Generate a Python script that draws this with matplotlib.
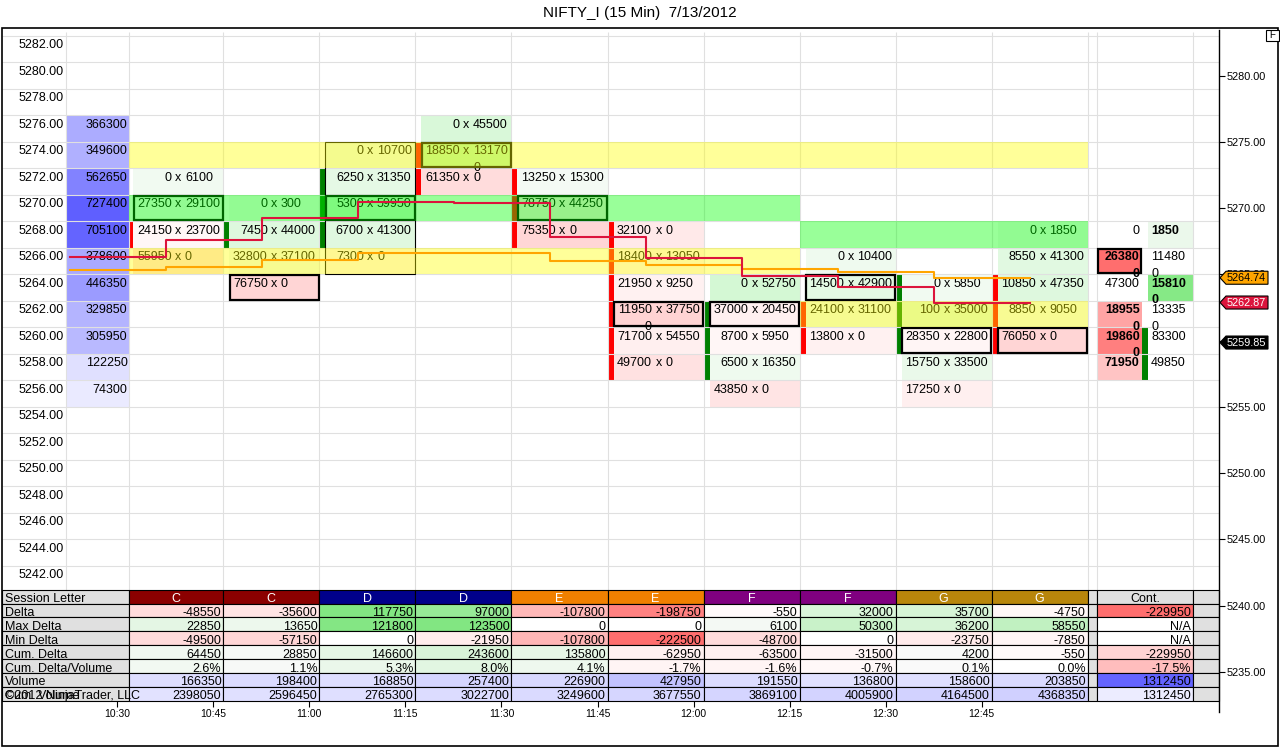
import matplotlib
matplotlib.use("Agg")
import matplotlib.pyplot as plt
from matplotlib.patches import Rectangle, Polygon

plt.rcParams['font.family'] = ['Liberation Sans', 'DejaVu Sans']

# ===================== data =====================
TITLE = "NIFTY_I (15 Min)  7/13/2012"
times = ["10:30", "10:45", "11:00", "11:15", "11:30", "11:45", "12:00", "12:15", "12:30", "12:45"]
sessions = ["C", "C", "D", "D", "E", "E", "F", "F", "G", "G"]
session_colors = {"C": "#8B0000", "D": "#00008B", "E": "#F08000", "F": "#800080", "G": "#B8860B"}

left_price_labels = [5282, 5280, 5278, 5276, 5274, 5272, 5270, 5268, 5266, 5264, 5262,
                     5260, 5258, 5256, 5254, 5252, 5250, 5248, 5246, 5244, 5242]
right_axis_ticks = [5280, 5275, 5270, 5265, 5260, 5255, 5250, 5245, 5240, 5235]

profile_prices = [5276, 5274, 5272, 5270, 5268, 5266, 5264, 5262, 5260, 5258, 5256]
profile_volume = [366300, 349600, 562650, 727400, 705100, 378600, 446350, 329850, 305950, 122250, 74300]

bar_prices = [
    [5272, 5270, 5268, 5266],
    [5270, 5268, 5266, 5264],
    [5274, 5272, 5270, 5268, 5266],
    [5276, 5274, 5272],
    [5272, 5270, 5268],
    [5268, 5266, 5264, 5262, 5260, 5258],
    [5264, 5262, 5260, 5258, 5256],
    [5266, 5264, 5262, 5260],
    [5264, 5262, 5260, 5258, 5256],
    [5268, 5266, 5264, 5262, 5260],
]
bar_bids = [
    [0, 27350, 24150, 55950],
    [0, 7450, 32800, 76750],
    [0, 6250, 5300, 6700, 7300],
    [0, 18850, 61350],
    [13250, 78750, 75350],
    [32100, 18400, 21950, 119500, 71700, 49700],
    [0, 37000, 8700, 6500, 43850],
    [0, 14500, 24100, 13800],
    [0, 100, 28350, 15750, 17250],
    [0, 8550, 10850, 8850, 76050],
]
bar_asks = [
    [6100, 29100, 23700, 0],
    [300, 44000, 37100, 0],
    [10700, 31350, 59950, 41300, 0],
    [45500, 131700, 0],
    [15300, 44250, 0],
    [0, 13050, 9250, 37750, 54550, 0],
    [52750, 20450, 5950, 16350, 0],
    [10400, 42900, 31100, 0],
    [5850, 35000, 22800, 33500, 0],
    [1850, 41300, 47350, 9050, 0],
]
bar_open = [5268.6, 5267.9, 5268.4, 5273.2, 5271.6, 5268.0, 5258.4, 5262.3, 5260.2, 5263.6]
bar_close = [5267.9, 5268.4, 5272.2, 5271.8, 5268.2, 5258.4, 5262.3, 5260.2, 5263.6, 5259.85]
highlight_bar = 2

comp_prices = [5268, 5266, 5264, 5262, 5260, 5258]
comp_bids = [0, 263800, 47300, 189550, 198600, 71950]
comp_asks = [1850, 114800, 158100, 133350, 83300, 49850]
comp_bid_bold = [False, True, False, True, True, True]
comp_ask_bold = [True, False, True, False, False, False]
comp_open = 5258.3
comp_close = 5259.85

band_prices = [5274, 5270, 5266, 5268, 5262]
band_first = [0, 0, 0, 7, 7]
band_last = [9, 6, 6, 9, 9]
band_kind = ["yellow", "green", "yellow", "green", "yellow"]

red_line = [5266.33, 5267.59, 5269.23, 5270.48, 5270.36, 5267.84, 5266.21, 5264.89, 5264.06, 5262.87]
orange_line = [5265.29, 5265.57, 5266.07, 5266.57, 5266.64, 5265.99, 5265.69, 5265.37, 5265.19, 5264.74]
last_price = 5259.85

table_labels = ["Session Letter", "Delta", "Max Delta", "Min Delta", "Cum. Delta",
                "Cum. Delta/Volume", "Volume", "Cum. Volume"]
copyright_text = "\u00a92012 NinjaTrader, LLC"
tbl_delta = [-48550, -35600, 117750, 97000, -107800, -198750, -550, 32000, 35700, -4750]
tbl_max_delta = [22850, 13650, 121800, 123500, 0, 0, 6100, 50300, 36200, 58550]
tbl_min_delta = [-49500, -57150, 0, -21950, -107800, -222500, -48700, 0, -23750, -7850]
tbl_cum_delta = [64450, 28850, 146600, 243600, 135800, -62950, -63500, -31500, 4200, -550]
tbl_cum_dv = [2.6, 1.1, 5.3, 8.0, 4.1, -1.7, -1.6, -0.7, 0.1, 0.0]
tbl_volume = [166350, 198400, 168850, 257400, 226900, 427950, 191550, 136800, 158600, 203850]
tbl_cum_volume = [2398050, 2596450, 2765300, 3022700, 3249600, 3677550, 3869100, 4005900, 4164500, 4368350]
cont_header = "Cont."
cont_values = [-229950, None, None, -229950, -17.5, 1312450, 1312450]

# ===================== layout / style =====================
FW, FH = 1280, 747
FS = 9


def fbox(x0, y0, x1, y1):
    return [x0 / FW, 1 - y1 / FH, (x1 - x0) / FW, (y1 - y0) / FH]


PX_PER_PT = 13.25
REF_PRICE, REF_Y = 5282, 49.05


def y_to_price(y):
    return REF_PRICE - (y - REF_Y) / PX_PER_PT


LEFT, RIGHT = 2, 1218.5
PLOT_TOP, PLOT_BOT = 30, 589.7
TAB_BOT = 700.7
AXIS_BOT = 712
X0, W = 127.3, 96.04
PROF_L, PROF_R = 65.7, 129.3
MARK_W = 6
COMP_L, COMP_ML, COMP_MR, COMP_R = 1097.3, 1141.7, 1148.0, 1193.3
STEP_OFF = 38.6
GRID = '#E0E0E0'
GREY = '#E0E0E0'
BAND_COL = {"yellow": "#FFFF00", "green": "#00FF00"}


def col_left(i):
    return X0 + W * i


def clip_l(x):
    return max(x, PROF_R)


def rgb(r, g, b):
    return (min(max(r, 0), 255) / 255, min(max(g, 0), 255) / 255, min(max(b, 0), 255) / 255)


def top_y(p):
    return p + 1 - 3.3 / PX_PER_PT


def wrap(s):
    return s if len(s) <= 5 else s[:5] + "\n" + s[5:]


def bucket(p):
    return 2 * round(p / 2)


def fp_color(d, scale):
    r = min(abs(d) / scale, 1.0)
    if d < 0:
        c = 247 - 50 * r
        return rgb(255, c, c)
    c = 245 - 70 * r
    return rgb(c, 250 - 5 * r, c)


fig = plt.figure(figsize=(12.8, 7.47), dpi=100)
fig.patch.set_facecolor('white')

ax = fig.add_axes(fbox(LEFT, PLOT_TOP, RIGHT, PLOT_BOT))
ax.set_xlim(LEFT, RIGHT)
ax.set_ylim(y_to_price(PLOT_BOT), y_to_price(PLOT_TOP))
ax.axis('off')

# grid
for p in left_price_labels:
    ax.hlines(p + 1, LEFT, RIGHT, color=GRID, lw=0.8, zorder=2)
vx = [PROF_L] + [clip_l(col_left(i)) for i in range(len(times) + 1)] + [COMP_L, COMP_R]
ax.vlines(vx, y_to_price(PLOT_BOT), y_to_price(32), color=GRID, lw=0.8, zorder=2)

# left price labels
for p in left_price_labels:
    ax.text(63.5, top_y(p), f"{p:.2f}", ha='right', va='top', fontsize=FS, zorder=3)

# volume profile
pmax = max(profile_volume)
for p, v in zip(profile_prices, profile_volume):
    c = 250 - 155 * v / pmax
    ax.add_patch(Rectangle((PROF_L, p - 1), PROF_R - PROF_L, 2, fc=rgb(c, c, 255), ec='none', zorder=1))
    ax.text(PROF_R - 1.8, top_y(p), str(v), ha='right', va='top', fontsize=FS, zorder=3)

# footprint bars
fp_scale = max(abs(a - b) for bs, as_ in zip(bar_bids, bar_asks) for b, a in zip(bs, as_))
for i in range(len(times)):
    L = col_left(i)
    R = col_left(i + 1)
    cl = L + MARK_W
    cx = (cl + R) / 2
    tots = [b + a for b, a in zip(bar_bids[i], bar_asks[i])]
    poc = tots.index(max(tots))
    for k, (p, b, a) in enumerate(zip(bar_prices[i], bar_bids[i], bar_asks[i])):
        ax.add_patch(Rectangle((cl, p - 1), R - cl, 2, fc=fp_color(a - b, fp_scale), ec='none', zorder=1))
        ax.text(cx - 6.6, top_y(p), wrap(str(b)), ha='right', va='top', fontsize=FS,
                multialignment='right', linespacing=1.5, zorder=3)
        ax.text(cx, top_y(p), 'x', ha='center', va='top', fontsize=FS, zorder=3)
        ax.text(cx + 6.6, top_y(p), wrap(str(a)), ha='left', va='top', fontsize=FS,
                multialignment='left', linespacing=1.5, zorder=3)
        if k == poc:
            ax.add_patch(Rectangle((cl + 0.8, p - 1 + 0.07), R - cl - 1.6, 2 - 0.14, fill=False,
                                   ec='black', lw=1.6, zorder=3.5))
    lo = bucket(min(bar_open[i], bar_close[i]))
    hi = bucket(max(bar_open[i], bar_close[i]))
    mcol = '#FF0000' if bar_close[i] < bar_open[i] else '#008000'
    ml = clip_l(L)
    ax.add_patch(Rectangle((ml, lo - 1), L + MARK_W - ml, hi - lo + 2, fc=mcol, ec='none', zorder=1.5))
    if i == highlight_bar:
        lo_p, hi_p = min(bar_prices[i]), max(bar_prices[i])
        ax.add_patch(Rectangle((cl, lo_p - 1), R - cl - 0.5, hi_p - lo_p + 2, fill=False,
                               ec='black', lw=0.8, zorder=4))

# composite column
comp_d = [a - b for b, a in zip(comp_bids, comp_asks)]
comp_scale = max(abs(d) for d in comp_d)
comp_tot = [a + b for b, a in zip(comp_bids, comp_asks)]
comp_poc = comp_tot.index(max(comp_tot))
for k, (p, b, a) in enumerate(zip(comp_prices, comp_bids, comp_asks)):
    d = comp_d[k]
    r = (abs(d) / comp_scale) ** 0.5
    if d < 0:
        c = 250 - 140 * r
        ax.add_patch(Rectangle((COMP_L, p - 1), COMP_ML - COMP_L, 2, fc=rgb(255, c, c), ec='none', zorder=1))
    elif d > 0:
        c = 250 - 135 * r
        ax.add_patch(Rectangle((COMP_MR, p - 1), COMP_R - COMP_MR, 2, fc=rgb(c, 250 - 20 * r, c), ec='none', zorder=1))
    ax.text(COMP_ML - 2, top_y(p), wrap(str(b)), ha='right', va='top', fontsize=FS,
            multialignment='right', linespacing=1.5, zorder=3,
            fontweight='bold' if comp_bid_bold[k] else 'normal')
    ax.text(COMP_MR + 3, top_y(p), wrap(str(a)), ha='left', va='top', fontsize=FS,
            multialignment='left', linespacing=1.5, zorder=3,
            fontweight='bold' if comp_ask_bold[k] else 'normal')
    if k == comp_poc:
        ax.add_patch(Rectangle((COMP_L + 0.8, p - 1 + 0.07), COMP_ML - COMP_L - 1.6, 2 - 0.14, fill=False,
                               ec='black', lw=1.6, zorder=3.5))
lo = bucket(min(comp_open, comp_close))
hi = bucket(max(comp_open, comp_close))
ax.add_patch(Rectangle((COMP_ML, lo - 1), COMP_MR - COMP_ML, hi - lo + 2,
                       fc='#FF0000' if comp_close < comp_open else '#008000', ec='none', zorder=1.5))

# highlight bands
for p, f, l, k in zip(band_prices, band_first, band_last, band_kind):
    x0 = clip_l(col_left(f))
    ax.add_patch(Rectangle((x0, p - 1), col_left(l + 1) - x0, 2, fc=BAND_COL[k], alpha=0.4,
                           ec='none', zorder=5))

# stepped lines
xs = [col_left(k) + STEP_OFF for k in range(-1, len(red_line))]
ax.step(xs, orange_line + [orange_line[-1]], where='post', color='#FFA500', lw=1.5, zorder=7)
ax.step(xs, red_line + [red_line[-1]], where='post', color='#DC143C', lw=1.5, zorder=8)

# ===================== table =====================
axt = fig.add_axes(fbox(LEFT, PLOT_BOT, RIGHT, TAB_BOT))
axt.set_xlim(LEFT, RIGHT)
axt.set_ylim(len(table_labels), 0)
for s in axt.spines.values():
    s.set_visible(False)
axt.set_yticks([])
axt.set_xticks([col_left(i) - 10 for i in range(len(times))], times)
axt.tick_params(axis='x', length=4.3, width=0.8, labelsize=7.5, pad=2)
axt.patch.set_visible(False)

rows = [tbl_delta, tbl_max_delta, tbl_min_delta, tbl_cum_delta, tbl_cum_dv, tbl_volume, tbl_cum_volume]


def div_shade(v, pos, neg):
    if v is None or v == 0:
        return 'white'
    if v > 0:
        r = min(v / pos, 1)
        return rgb(250 - 120 * r, 250 - 20 * r, 250 - 120 * r)
    r = min(-v / neg, 1)
    return rgb(255, 250 - 140 * r, 250 - 140 * r)


def vol_shade(v, scale, base, span):
    c = base - span * v / scale
    return rgb(c, c, 255)


def row_shader(j, vals):
    allv = [v for v in vals if v is not None]
    if j in (0, 1, 2):
        pos = max([v for v in allv if v > 0] + [1])
        neg = max([-v for v in allv if v < 0] + [1])
        return lambda v: div_shade(v, pos, neg)
    if j == 3:
        return lambda v: div_shade(v, 850000, 850000)
    if j == 4:
        return lambda v: div_shade(v, 40, 40)
    if j == 5:
        m = max(allv)
        return lambda v: vol_shade(v, m, 240, 140)
    m = max(allv)
    return lambda v: vol_shade(v, m, 248, 40)


def fmt(j, v):
    if v is None:
        return "N/A"
    if j == 4:
        return f"{v:.1f}%"
    return str(v)


def tcell(x0, x1, r, fc):
    axt.add_patch(Rectangle((x0, r), x1 - x0, 1, fc=fc, ec='black', lw=0.8, zorder=1, clip_on=False))


TY = 0.5 + 0.18
# header row
tcell(LEFT, PROF_R, 0, GREY)
axt.text(5, TY, table_labels[0], ha='left', va='center', fontsize=FS, zorder=3)
for i, s in enumerate(sessions):
    x0, x1 = clip_l(col_left(i)), col_left(i + 1)
    tcell(x0, x1, 0, session_colors[s])
    axt.text((x0 + x1) / 2, TY, s, ha='center', va='center', fontsize=FS, color='white', zorder=3)
tcell(col_left(len(times)), COMP_L, 0, GREY)
tcell(COMP_L, COMP_R, 0, GREY)
axt.text((COMP_L + COMP_R) / 2, TY, cont_header, ha='center', va='center', fontsize=FS, zorder=3)
tcell(COMP_R, RIGHT, 0, GREY)

for j, vals in enumerate(rows):
    r = j + 1
    shade = row_shader(j, vals + [cont_values[j]])
    tcell(LEFT, PROF_R, r, GREY)
    axt.text(5, r + TY, table_labels[r], ha='left', va='center', fontsize=FS, zorder=3)
    for i, v in enumerate(vals):
        x0, x1 = clip_l(col_left(i)), col_left(i + 1)
        tcell(x0, x1, r, shade(v))
        axt.text(x1 - 2, r + TY, fmt(j, v), ha='right', va='center', fontsize=FS, zorder=3)
    tcell(col_left(len(times)), COMP_L, r, GREY)
    cv = cont_values[j]
    tcell(COMP_L, COMP_R, r, shade(cv) if cv is not None else 'white')
    axt.text(COMP_R - 2, r + TY, fmt(j, cv), ha='right', va='center', fontsize=FS, zorder=3)
    tcell(COMP_R, RIGHT, r, GREY)
axt.text(5, len(table_labels) - 1 + TY, copyright_text, ha='left', va='center', fontsize=FS, zorder=3)

# ===================== right price axis =====================
axr = fig.add_axes(fbox(LEFT, PLOT_TOP, RIGHT, AXIS_BOT), zorder=10)
axr.patch.set_visible(False)
axr.set_xlim(LEFT, RIGHT)
axr.set_ylim(y_to_price(AXIS_BOT), y_to_price(PLOT_TOP))
for side in ('left', 'top', 'bottom'):
    axr.spines[side].set_visible(False)
axr.spines['right'].set_linewidth(1.0)
axr.set_xticks([])
axr.yaxis.tick_right()
axr.set_yticks(right_axis_ticks, [f"{v:.2f}" for v in right_axis_ticks])
axr.tick_params(axis='y', length=4.3, width=0.8, labelsize=7.8, pad=1.5, direction='out')


def price_tag(p, fc, tc):
    hh = 6.5 / PX_PER_PT
    x0, x1, x2 = RIGHT + 1.5, RIGHT + 7.5, RIGHT + 49.5
    axr.add_patch(Polygon([(x0, p), (x1, p + hh), (x2, p + hh), (x2, p - hh), (x1, p - hh)],
                          closed=True, fc=fc, ec='black', lw=0.8, clip_on=False, zorder=20))
    axr.text(x1 + 0.5, p, f"{p:.2f}", ha='left', va='center', fontsize=7.8, color=tc,
             clip_on=False, zorder=21)


price_tag(orange_line[-1], '#FFA500', 'black')
price_tag(red_line[-1], '#DC143C', 'white')
price_tag(last_price, 'black', 'white')

# ===================== frame / title =====================
fig.add_artist(Rectangle((2 / FW, 1 - 745.5 / FH), 1276 / FW, 718 / FH, transform=fig.transFigure,
                         fill=False, ec='black', lw=1.2))
fig.add_artist(Rectangle((1266 / FW, 1 - 41 / FH), 13 / FW, 11 / FH, transform=fig.transFigure,
                         fc='white', ec='black', lw=0.8))
fig.text(1272.5 / FW, 1 - 35.5 / FH, "F", ha='center', va='center', fontsize=7)
fig.text(0.5, 1 - 13 / FH, TITLE, ha='center', va='center', fontsize=11)

fig.savefig("out.png", dpi=100)
